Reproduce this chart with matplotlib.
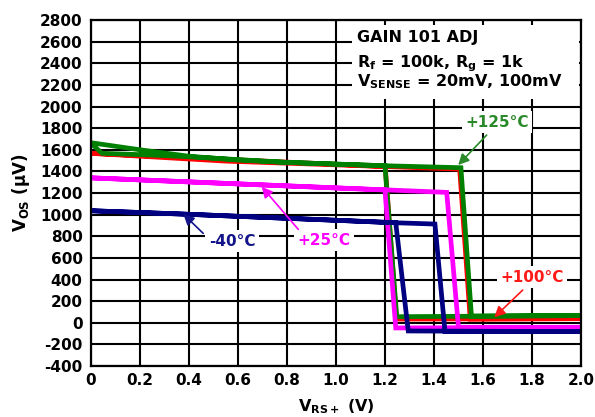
import matplotlib
matplotlib.use("Agg")
import matplotlib.pyplot as plt
from matplotlib.patches import Rectangle

plt.rcParams['font.family'] = ['DejaVu Sans']
plt.rcParams['font.weight'] = 'bold'
plt.rcParams['mathtext.fontset'] = 'dejavusans'
plt.rcParams['axes.unicode_minus'] = False

# ---- data (hysteresis sweeps: up then back down) ----
x_125_up = [0, 0.2, 0.4, 0.6, 0.8, 1.0, 1.2, 1.51, 1.553, 2.0]
y_125_up = [1665, 1600, 1540, 1505, 1483, 1467, 1452, 1434, 62, 66]
x_125_dn = [2.0, 1.248, 1.2, 0.8, 0.4, 0.25, 0.045, 0]
y_125_dn = [66, 56, 1452, 1483, 1535, 1551, 1567, 1660]

x_100_up = [0, 0.55, 1.2, 1.505, 1.548, 2.0]
y_100_up = [1567, 1495, 1445, 1421, 34, 38]
x_100_dn = [2.0, 1.247, 1.201, 0]
y_100_dn = [38, 34, 1445, 1567]

x_25_up = [0, 0.8, 1.452, 1.5, 2.0]
y_25_up = [1340, 1266, 1206, -42, -42]
x_25_dn = [2.0, 1.244, 1.2, 0]
y_25_dn = [-42, -48, 1228, 1340]

x_m40_up = [0, 0.377, 0.976, 1.24, 1.404, 1.445, 2.0]
y_m40_up = [1036, 1005, 950, 925, 913, -82, -82]
x_m40_dn = [2.0, 1.295, 1.244, 0.976, 0.377, 0]
y_m40_dn = [-82, -76, 925, 950, 1005, 1036]

x_ticks = [0, 0.2, 0.4, 0.6, 0.8, 1.0, 1.2, 1.4, 1.6, 1.8, 2.0]
x_tick_labels = ['0', '0.2', '0.4', '0.6', '0.8', '1.0', '1.2', '1.4', '1.6', '1.8', '2.0']
y_ticks = list(range(-400, 2801, 200))

series = [
    ('+100°C', x_100_up + x_100_dn, y_100_up + y_100_dn, '#ff0000', 2),
    ('+125°C', x_125_up + x_125_dn, y_125_up + y_125_dn, '#008000', 3),
    ('+25°C', x_25_up + x_25_dn, y_25_up + y_25_dn, '#ff00ff', 4),
    ('-40°C', x_m40_up + x_m40_dn, y_m40_up + y_m40_dn, '#000080', 5),
]

# label positions (text centre), arrow tail, arrow tip (data coords)
labels = [
    ('+125°C', (1.657, 1853), (1.615, 1736), (1.499, 1459), '#2a8a2a'),
    ('+100°C', (1.799, 420), (1.762, 302), (1.646, 50), '#ff1a1a'),
    ('-40°C', (0.576, 756), (0.458, 827), (0.377, 1005), '#14148a'),
    ('+25°C', (0.951, 765), (0.846, 864), (0.697, 1258), '#ff00ff'),
]

fig = plt.figure(figsize=(5.95, 4.17), dpi=100)
ax = fig.add_axes([0.1529, 0.1223, 0.8235, 0.8297])

for name, xs, ys, col, z in series:
    ax.plot(xs, ys, color=col, lw=3.4, zorder=z, solid_joinstyle='miter')

ax.set_xlim(0, 2.0)
ax.set_ylim(-400, 2800)
ax.set_xticks(x_ticks)
ax.set_xticklabels(x_tick_labels)
ax.set_yticks(y_ticks)
ax.tick_params(axis='both', length=0, labelsize=11)
ax.tick_params(axis='y', pad=6)
ax.tick_params(axis='x', pad=5)
for lab in ax.get_xticklabels() + ax.get_yticklabels():
    lab.set_fontweight('bold')
ax.set_axisbelow(True)
ax.grid(True, color='black', lw=1.5)
for s in ax.spines.values():
    s.set_linewidth(1.6)
    s.set_zorder(10)

ax.set_xlabel(r'$\mathbf{V_{RS+}}$ (V)', fontsize=11.5, fontweight='bold', labelpad=7)
ax.set_ylabel(r'$\mathbf{V_{OS}}$ (µV)', fontsize=12, fontweight='bold', labelpad=6)

# info box
ax.add_patch(Rectangle((0.533, 0.772), 0.462, 0.215, transform=ax.transAxes,
                       facecolor='white', edgecolor='none', zorder=1.5))
ax.text(0.543, 0.937, 'GAIN 101 ADJ', transform=ax.transAxes, fontsize=11.5,
        fontweight='bold', va='baseline', ha='left', zorder=6)
ax.text(0.543, 0.863, r'$\mathbf{R_f}$ = 100k, $\mathbf{R_g}$ = 1k', transform=ax.transAxes,
        fontsize=11.5, fontweight='bold', va='baseline', ha='left', zorder=6)
ax.text(0.543, 0.809, r'$\mathbf{V_{SENSE}}$ = 20mV, 100mV', transform=ax.transAxes,
        fontsize=11.5, fontweight='bold', va='baseline', ha='left', zorder=6)

for txt, pos, tail, tip, col in labels:
    ax.text(pos[0], pos[1], txt, color=col, fontsize=11, fontweight='bold',
            ha='center', va='center', zorder=7,
            bbox=dict(facecolor='white', edgecolor='none', pad=2.5))
    ax.annotate('', xy=tip, xytext=tail, zorder=8,
                arrowprops=dict(arrowstyle='-|>', color=col, lw=1.2,
                                mutation_scale=16, shrinkA=0, shrinkB=0))

fig.savefig('out.png', dpi=100)
